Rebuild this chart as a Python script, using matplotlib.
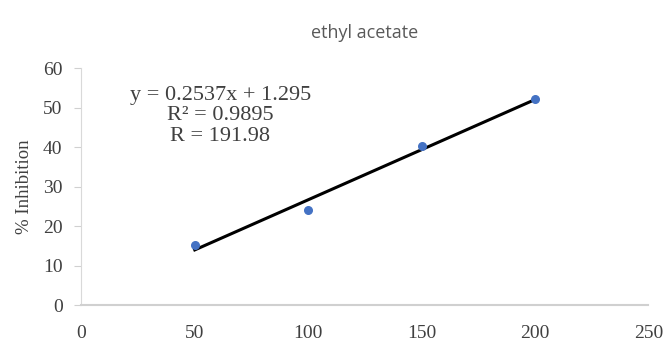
import numpy as np
import matplotlib
matplotlib.use("Agg")
from matplotlib import pyplot as plt

# data
conc = [50, 100, 150, 200]
inhibition = [15.2, 24.1, 40.4, 52.3]
slope, intercept = 0.2537, 1.295
eq_lines = ["y = 0.2537x + 1.295", "R\u00b2 = 0.9895", "R = 191.98"]
xticks = [0, 50, 100, 150, 200, 250]
yticks = [0, 10, 20, 30, 40, 50, 60]

dpi = 100
fig = plt.figure(figsize=(667 / dpi, 344 / dpi), dpi=dpi)
ax = fig.add_axes([0.122, 0.113, 0.850, 0.689])

xs = np.array([conc[0], conc[-1]])
ax.plot(xs, slope * xs + intercept, color="black", lw=2.2, zorder=2)
ax.scatter(conc, inhibition, s=30, color="#4472C4", zorder=3)

ax.set_xlim(0, 250)
ax.set_ylim(0, 60)
ax.set_xticks(xticks)
ax.set_yticks(yticks)

serif = "Liberation Serif"
for lab in ax.get_xticklabels() + ax.get_yticklabels():
    lab.set_fontfamily(serif)
    lab.set_fontsize(14)
    lab.set_color("#404040")
ax.tick_params(axis="x", length=0, pad=14)
ax.tick_params(axis="y", length=5, color="#d0d0d0", pad=8.5)

for s in ["top", "right"]:
    ax.spines[s].set_visible(False)
ax.spines["left"].set_color("#d9d9d9")
ax.spines["bottom"].set_color("#d0d0d0")
ax.spines["bottom"].set_linewidth(1.5)

ax.set_ylabel("% Inhibition", fontfamily=serif, fontsize=13.5, color="#404040", labelpad=7)
ax.set_title("ethyl acetate", fontfamily="Open Sans", fontsize=13, color="#595959", pad=22)

ax.text(0.245, 0.925, "\n".join(eq_lines), transform=ax.transAxes, ha="center", va="top",
        fontfamily=serif, fontsize=16, color="#404040", linespacing=1.1, multialignment="center")

fig.savefig("out.png", dpi=dpi)
